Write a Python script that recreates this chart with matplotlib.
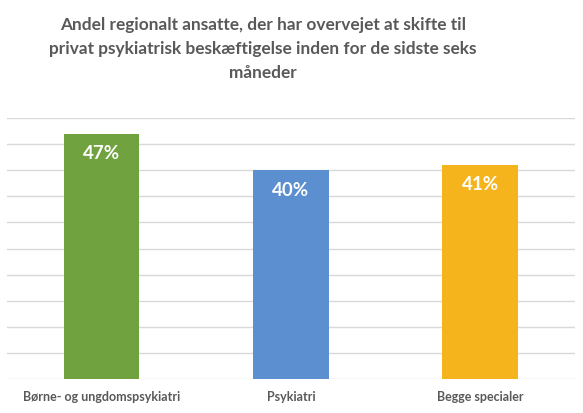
import matplotlib
matplotlib.use("Agg")
import matplotlib.pyplot as plt
import numpy as np

# data
categories = ["Børne- og ungdomspsykiatri", "Psykiatri", "Begge specialer"]
shares = [0.47, 0.40, 0.41]
bar_colors = ["#70a23f", "#5b8fcf", "#f5b41c"]
title = ("Andel regionalt ansatte, der har overvejet at skifte til\n"
         "privat psykiatrisk beskæftigelse inden for de sidste seks\n"
         "måneder")

plt.rcParams['font.family'] = ['Lato', 'DejaVu Sans']
grey = "#595959"

fig = plt.figure(figsize=(5.83, 4.13), dpi=100)
ax = fig.add_axes([0.012, 0.0823, 0.974, 0.632])

x = np.arange(len(categories))
bars = ax.bar(x, shares, width=0.4, color=bar_colors, zorder=2)

for b, v in zip(bars, shares):
    ax.text(b.get_x() + b.get_width() / 2, v - 0.038, f"{round(v * 100)}%",
            ha="center", va="center", color="white", fontsize=13.5,
            fontweight="bold", zorder=3)

ax.set_xlim(-0.5, 2.5)
ax.set_ylim(0, 0.5)
ax.set_yticks(np.arange(0, 0.51, 0.05))
ax.yaxis.grid(True, color="#d9d9d9", linewidth=1)
ax.set_axisbelow(True)
ax.tick_params(axis="y", left=False, labelleft=False)
ax.tick_params(axis="x", bottom=False, pad=5)
ax.set_xticks(x)
ax.set_xticklabels(categories, fontsize=9, fontweight="bold", color=grey)
for s in ax.spines.values():
    s.set_visible(False)

# the title sits a little left of the plot centre in the original
fig.text(0.451, 0.958, title, ha="center", va="top", fontsize=12.4,
         fontweight="bold", color=grey, linespacing=1.6)

fig.savefig("out.png", dpi=100)
